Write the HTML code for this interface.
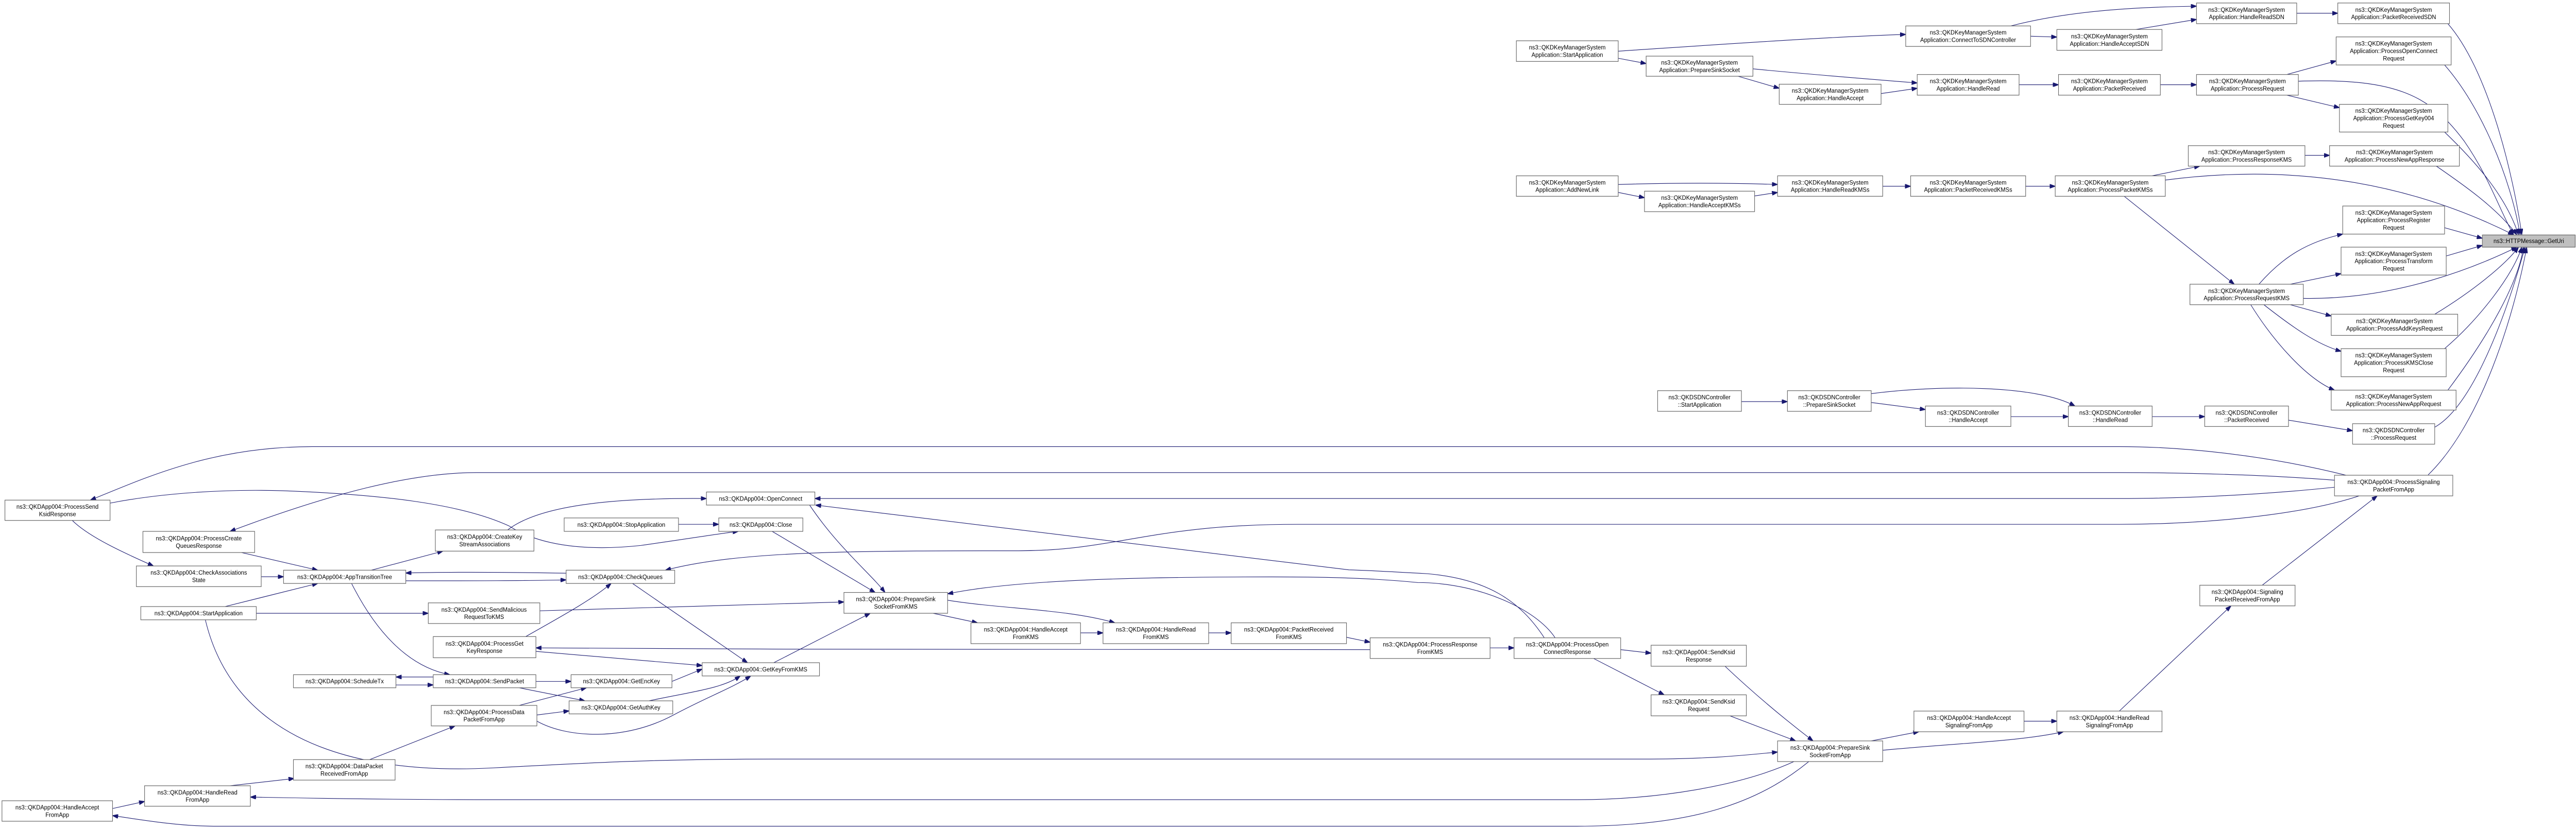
<!DOCTYPE html>
<html><head><meta charset="utf-8"><style>
html,body{margin:0;padding:0;background:#fff;width:100%;height:100%;overflow:hidden;}
svg{display:block;position:fixed;left:0;top:0;width:100%;height:100%;}
text{font-family:"Liberation Sans",sans-serif;font-size:3.5px;fill:#000;text-anchor:middle;}
.n rect{fill:#fff;stroke:#666;stroke-width:0.35;}
.e path{fill:none;stroke:#191970;stroke-width:0.32;marker-end:url(#ah);}
</style></head><body>
<svg width="100%" height="100%" viewBox="0 0 1568 469.6" preserveAspectRatio="none" xmlns="http://www.w3.org/2000/svg">
<defs><marker id="ah" viewBox="0 0 10 7" refX="10" refY="3.5" markerWidth="3.4" markerHeight="2.4" markerUnits="userSpaceOnUse" orient="auto"><path d="M0,0 L10,3.5 L0,7 z" fill="#191970" stroke="#191970"/></marker></defs>
<g class="e">
<path d="M1398,7.5 L1423,7.5"/>
<path d="M1224,14.7 C1260,6 1300,4 1337,3.5"/>
<path d="M1236,20.5 L1252,21"/>
<path d="M1300,16.7 L1337,11"/>
<path d="M985,29 C1050,25 1110,21 1160,19.5"/>
<path d="M985,33 L1002,36"/>
<path d="M1067,39 C1100,42 1140,45 1167,47"/>
<path d="M1058,43.2 L1083,50"/>
<path d="M1145,53 L1167,50"/>
<path d="M1229,48 L1253,48"/>
<path d="M1315,48 L1337,48"/>
<path d="M1392,42.2 L1422,34.5"/>
<path d="M1392,53.9 L1424,61"/>
<path d="M1399,46 C1460,44 1480,55 1500,80 C1515,100 1522,120 1530,133"/>
<path d="M1490,13.4 C1515,40 1530,100 1535,133"/>
<path d="M1488,36.8 C1510,60 1528,100 1534,133"/>
<path d="M1488,74.8 C1505,90 1525,110 1533,133"/>
<path d="M1403,88 L1418,88"/>
<path d="M1483,94.1 C1500,105 1520,118 1532,133"/>
<path d="M1310,99.6 L1339,94.1"/>
<path d="M1318,102 C1400,92 1470,105 1530,133"/>
<path d="M1293,111.2 L1360,161"/>
<path d="M985,104.5 C1020,103.5 1050,103.5 1082,104.5"/>
<path d="M985,109 L1001,112"/>
<path d="M1068,111 L1082,109"/>
<path d="M1146,105.5 L1163,105.5"/>
<path d="M1233,105.5 L1251,105.5"/>
<path d="M1488,129 L1511,135"/>
<path d="M1489,145 L1511,139"/>
<path d="M1375,161 C1390,145 1405,137 1426,132.6"/>
<path d="M1394,161 L1425,155"/>
<path d="M1402,169 C1460,170 1510,150 1532,140"/>
<path d="M1394,172.6 L1419,179"/>
<path d="M1378,172.6 C1395,185 1410,195 1425,199"/>
<path d="M1370,172.6 C1385,195 1405,215 1421,221"/>
<path d="M1482,178 C1505,165 1525,150 1533,140"/>
<path d="M1488,197.5 C1510,180 1530,155 1535,140"/>
<path d="M1490,221 C1515,190 1533,160 1536,140"/>
<path d="M1060,227.5 L1088,227.5"/>
<path d="M1139,223 C1180,218 1240,218 1263,230"/>
<path d="M1139,228 L1172,232"/>
<path d="M1224,236 L1259,236"/>
<path d="M1310,236 L1342,236"/>
<path d="M1393,238 L1432,244"/>
<path d="M1482,242 C1505,230 1525,180 1537,140"/>
<path d="M1478,269 C1510,240 1530,180 1538,140"/>
<path d="M1428,269.2 C1380,258 1330,253 1290,253 L190,253 C130,253 90,270 55,283.3"/>
<path d="M1421,272 C1380,269 1330,267.7 1290,267.7 L290,267.7 C250,267.7 200,280 140,301"/>
<path d="M1421,276 C1370,281 1320,282.4 1290,282.4 L496,282.4"/>
<path d="M1436,280.9 C1400,292 1340,297 1290,297 L790,297 C700,297 680,312 620,312 C520,312 450,312 405,323"/>
<path d="M125,351.1 C140,410 200,440 300,435 C360,432 400,430 470,430 L1000,430 C1040,430 1060,428 1082,426"/>
<path d="M1092,431.4 C1060,445 1010,453 960,453 L300,453 C230,453 180,452 152.4,451.5"/>
<path d="M1101,431.4 C1070,455 1030,468 960,468 L130,468 C110,468 90,465 68.5,462"/>
<path d="M68.5,458 L88,454"/>
<path d="M140,445.1 L179,441"/>
<path d="M225,430.3 L277,411.2"/>
<path d="M316,399.6 L357,389.6"/>
<path d="M326.8,405 L346.4,402.7"/>
<path d="M326.8,408.5 C345,418 380,420 410,405 C430,395 445,390 457,382.9"/>
<path d="M326.2,386 L347.6,386"/>
<path d="M316,389.6 L356,397"/>
<path d="M263.7,383.5 L241,383.5"/>
<path d="M241,388 L263.7,388"/>
<path d="M409,386 L427.4,379"/>
<path d="M395,397 C420,392 440,390 450.6,382.9"/>
<path d="M326.2,369 L427.4,377"/>
<path d="M320,360.6 C340,350 360,340 372,330.5"/>
<path d="M385,330.5 L455,375.4"/>
<path d="M471,375.4 L529.7,347.4"/>
<path d="M214,330.5 C230,360 250,378 273.8,382.2"/>
<path d="M226,323 L269.6,312.2"/>
<path d="M247,329 C290,329 320,329 344.6,328.5"/>
<path d="M344.6,324.7 C300,324 270,324 247,324.6"/>
<path d="M159,326.7 L172.6,326.7"/>
<path d="M147,313 L193.4,323"/>
<path d="M137,343.6 L193.4,330.5"/>
<path d="M156,347.4 L260.7,347.4"/>
<path d="M328.6,346 L513.7,341"/>
<path d="M44,294.8 C55,305 80,315 93.4,320.6"/>
<path d="M67,285 C100,279 140,277 172,278 C230,280 280,285 310,298 C330,310 360,312 390,309 C420,305 440,302 449.4,301"/>
<path d="M309,300.2 C330,285 380,282 430,282.4"/>
<path d="M413,297 L437.5,297"/>
<path d="M470,301 L532.7,335.6"/>
<path d="M492.8,286.1 C510,310 530,325 538.7,335.6"/>
<path d="M940,361.3 C925,340 905,328 869,325 C850,324 830,323 821,322.8 L496.4,286.1"/>
<path d="M946.6,361.3 C935,345 900,330 863,330 C830,327 800,326.8 774,326.8 C700,326.8 620,328 576.8,336.4"/>
<path d="M568,347.4 L595,352.8"/>
<path d="M576.8,340 C610,345 650,345 678.6,352.8"/>
<path d="M657.7,358.5 L671.4,358.5"/>
<path d="M735.7,358.5 L749.4,358.5"/>
<path d="M819.6,361 L834,363.8"/>
<path d="M907,367 L921.6,367"/>
<path d="M834,368 C700,368.5 500,368 326.2,367"/>
<path d="M986.5,368 L1005,370"/>
<path d="M970,373 L1013,393.6"/>
<path d="M1050,377.4 C1070,395 1090,410 1103.6,419.7"/>
<path d="M1053,405.5 L1093,419.7"/>
<path d="M1139,419.7 L1168,414.5"/>
<path d="M1146,425 C1190,421 1230,420 1256,414.5"/>
<path d="M1232,408.5 L1252,408.5"/>
<path d="M1290,402.8 L1358,343.2"/>
<path d="M1377,331.5 L1447,280.9"/>
</g>
<g class="n">
<rect x="1423" y="1.7" width="68" height="11.7"/><text x="1457" y="6.65">ns3::QKDKeyManagerSystem</text><text x="1457" y="10.85">Application::PacketReceivedSDN</text>
<rect x="1337" y="1.7" width="61" height="11.7"/><text x="1367.5" y="6.65">ns3::QKDKeyManagerSystem</text><text x="1367.5" y="10.85">Application::HandleReadSDN</text>
<rect x="1160" y="14.7" width="76" height="11.6"/><text x="1198" y="19.6">ns3::QKDKeyManagerSystem</text><text x="1198" y="23.8">Application::ConnectToSDNController</text>
<rect x="1252" y="16.7" width="64" height="11.8"/><text x="1284" y="21.7">ns3::QKDKeyManagerSystem</text><text x="1284" y="25.9">Application::HandleAcceptSDN</text>
<rect x="923" y="23.1" width="62" height="11.7"/><text x="954" y="28.05">ns3::QKDKeyManagerSystem</text><text x="954" y="32.25">Application::StartApplication</text>
<rect x="1002" y="31.8" width="65" height="11.4"/><text x="1034.5" y="36.6">ns3::QKDKeyManagerSystem</text><text x="1034.5" y="40.8">Application::PrepareSinkSocket</text>
<rect x="1083" y="47.7" width="62" height="11.4"/><text x="1114" y="52.5">ns3::QKDKeyManagerSystem</text><text x="1114" y="56.7">Application::HandleAccept</text>
<rect x="1167" y="42.2" width="62" height="11.7"/><text x="1198" y="47.15">ns3::QKDKeyManagerSystem</text><text x="1198" y="51.35">Application::HandleRead</text>
<rect x="1253" y="42.2" width="62" height="11.7"/><text x="1284" y="47.15">ns3::QKDKeyManagerSystem</text><text x="1284" y="51.35">Application::PacketReceived</text>
<rect x="1337" y="42.2" width="62" height="11.7"/><text x="1368" y="47.15">ns3::QKDKeyManagerSystem</text><text x="1368" y="51.35">Application::ProcessRequest</text>
<rect x="1422" y="20.9" width="70" height="15.9"/><text x="1457" y="25.85">ns3::QKDKeyManagerSystem</text><text x="1457" y="30.05">Application::ProcessOpenConnect</text><text x="1457" y="34.25">Request</text>
<rect x="1424" y="59.1" width="66" height="15.7"/><text x="1457" y="63.95">ns3::QKDKeyManagerSystem</text><text x="1457" y="68.15">Application::ProcessGetKey004</text><text x="1457" y="72.35">Request</text>
<rect x="1332" y="82.5" width="71" height="11.6"/><text x="1367.5" y="87.4">ns3::QKDKeyManagerSystem</text><text x="1367.5" y="91.6">Application::ProcessResponseKMS</text>
<rect x="1418" y="82.5" width="79" height="11.6"/><text x="1457.5" y="87.4">ns3::QKDKeyManagerSystem</text><text x="1457.5" y="91.6">Application::ProcessNewAppResponse</text>
<rect x="923" y="99.6" width="62" height="11.6"/><text x="954" y="104.5">ns3::QKDKeyManagerSystem</text><text x="954" y="108.7">Application::AddNewLink</text>
<rect x="1001" y="108.3" width="67" height="11.6"/><text x="1034.5" y="113.2">ns3::QKDKeyManagerSystem</text><text x="1034.5" y="117.4">Application::HandleAcceptKMSs</text>
<rect x="1082" y="99.6" width="64" height="11.6"/><text x="1114" y="104.5">ns3::QKDKeyManagerSystem</text><text x="1114" y="108.7">Application::HandleReadKMSs</text>
<rect x="1163" y="99.6" width="70" height="11.6"/><text x="1198" y="104.5">ns3::QKDKeyManagerSystem</text><text x="1198" y="108.7">Application::PacketReceivedKMSs</text>
<rect x="1251" y="99.6" width="67" height="11.6"/><text x="1284.5" y="104.5">ns3::QKDKeyManagerSystem</text><text x="1284.5" y="108.7">Application::ProcessPacketKMSs</text>
<rect x="1426" y="116.7" width="62" height="15.9"/><text x="1457" y="121.65">ns3::QKDKeyManagerSystem</text><text x="1457" y="125.85">Application::ProcessRegister</text><text x="1457" y="130.05">Request</text>
<rect x="1511" y="133.1" width="56.5" height="6.9" style="fill:#bfbfbf"/><text x="1539.25" y="137.7">ns3::HTTPMessage::GetUri</text>
<rect x="1425" y="140" width="64" height="15.8"/><text x="1457" y="144.9">ns3::QKDKeyManagerSystem</text><text x="1457" y="149.1">Application::ProcessTransform</text><text x="1457" y="153.3">Request</text>
<rect x="1333" y="161" width="69" height="11.6"/><text x="1367.5" y="165.9">ns3::QKDKeyManagerSystem</text><text x="1367.5" y="170.1">Application::ProcessRequestKMS</text>
<rect x="1419" y="178" width="77" height="12"/><text x="1457.5" y="183.1">ns3::QKDKeyManagerSystem</text><text x="1457.5" y="187.3">Application::ProcessAddKeysRequest</text>
<rect x="1425" y="197.5" width="64" height="15.9"/><text x="1457" y="202.45">ns3::QKDKeyManagerSystem</text><text x="1457" y="206.65">Application::ProcessKMSClose</text><text x="1457" y="210.85">Request</text>
<rect x="1419" y="221" width="76" height="11.3"/><text x="1457" y="225.75">ns3::QKDKeyManagerSystem</text><text x="1457" y="229.95">Application::ProcessNewAppRequest</text>
<rect x="1009" y="221.3" width="51" height="11.7"/><text x="1034.5" y="226.25">ns3::QKDSDNController</text><text x="1034.5" y="230.45">::StartApplication</text>
<rect x="1088" y="221.3" width="51" height="11.7"/><text x="1113.5" y="226.25">ns3::QKDSDNController</text><text x="1113.5" y="230.45">::PrepareSinkSocket</text>
<rect x="1172" y="230" width="52" height="11.6"/><text x="1198" y="234.9">ns3::QKDSDNController</text><text x="1198" y="239.1">::HandleAccept</text>
<rect x="1259" y="230" width="51" height="11.6"/><text x="1284.5" y="234.9">ns3::QKDSDNController</text><text x="1284.5" y="239.1">::HandleRead</text>
<rect x="1342" y="230" width="51" height="11.6"/><text x="1367.5" y="234.9">ns3::QKDSDNController</text><text x="1367.5" y="239.1">::PacketReceived</text>
<rect x="1432" y="240" width="50" height="11.6"/><text x="1457" y="244.9">ns3::QKDSDNController</text><text x="1457" y="249.1">::ProcessRequest</text>
<rect x="1421" y="269.2" width="72" height="11.7"/><text x="1457" y="274.15">ns3::QKDApp004::ProcessSignaling</text><text x="1457" y="278.35">PacketFromApp</text>
<rect x="1339" y="331.5" width="58" height="11.7"/><text x="1368" y="336.45">ns3::QKDApp004::Signaling</text><text x="1368" y="340.65">PacketReceivedFromApp</text>
<rect x="921.6" y="361.3" width="64.9" height="11.7"/><text x="954" y="366.25">ns3::QKDApp004::ProcessOpen</text><text x="954" y="370.45">ConnectResponse</text>
<rect x="1005" y="365.5" width="58" height="11.9"/><text x="1034" y="370.55">ns3::QKDApp004::SendKsid</text><text x="1034" y="374.75">Response</text>
<rect x="1005" y="393.6" width="58" height="11.9"/><text x="1034" y="398.65">ns3::QKDApp004::SendKsid</text><text x="1034" y="402.85">Request</text>
<rect x="1082" y="419.7" width="64" height="11.7"/><text x="1114" y="424.65">ns3::QKDApp004::PrepareSink</text><text x="1114" y="428.85">SocketFromApp</text>
<rect x="1165" y="402.8" width="67" height="11.7"/><text x="1198.5" y="407.75">ns3::QKDApp004::HandleAccept</text><text x="1198.5" y="411.95">SignalingFromApp</text>
<rect x="1252" y="402.8" width="64" height="11.7"/><text x="1284" y="407.75">ns3::QKDApp004::HandleRead</text><text x="1284" y="411.95">SignalingFromApp</text>
<rect x="3" y="283.3" width="64" height="11.5"/><text x="35" y="288.15">ns3::QKDApp004::ProcessSend</text><text x="35" y="292.35">KsidResponse</text>
<rect x="87" y="301" width="68" height="12"/><text x="121" y="306.1">ns3::QKDApp004::ProcessCreate</text><text x="121" y="310.3">QueuesResponse</text>
<rect x="83" y="320.6" width="76" height="11.7"/><text x="121" y="325.55">ns3::QKDApp004::CheckAssociations</text><text x="121" y="329.75">State</text>
<rect x="172.6" y="323" width="74.4" height="7.5"/><text x="209.8" y="328">ns3::QKDApp004::AppTransitionTree</text>
<rect x="85.7" y="343.6" width="70.3" height="7.5"/><text x="120.85" y="348.6">ns3::QKDApp004::StartApplication</text>
<rect x="265" y="300.2" width="60" height="12"/><text x="295" y="305.3">ns3::QKDApp004::CreateKey</text><text x="295" y="309.5">StreamAssociations</text>
<rect x="430" y="278.7" width="66" height="7.4"/><text x="463" y="283.6">ns3::QKDApp004::OpenConnect</text>
<rect x="343.4" y="293.4" width="69.6" height="7.6"/><text x="378.2" y="298.4">ns3::QKDApp004::StopApplication</text>
<rect x="437.5" y="293.4" width="51.2" height="7.6"/><text x="463.1" y="298.4">ns3::QKDApp004::Close</text>
<rect x="344.6" y="323" width="66.1" height="7.5"/><text x="377.65" y="328">ns3::QKDApp004::CheckQueues</text>
<rect x="513.7" y="335.6" width="63.1" height="11.8"/><text x="545.25" y="340.6">ns3::QKDApp004::PrepareSink</text><text x="545.25" y="344.8">SocketFromKMS</text>
<rect x="260.7" y="341.5" width="67.9" height="11.7"/><text x="294.65" y="346.45">ns3::QKDApp004::SendMalicious</text><text x="294.65" y="350.65">RequestToKMS</text>
<rect x="263.7" y="360.6" width="62.5" height="12"/><text x="294.95" y="365.7">ns3::QKDApp004::ProcessGet</text><text x="294.95" y="369.9">KeyResponse</text>
<rect x="427.4" y="375.4" width="71.4" height="7.5"/><text x="463.1" y="380.4">ns3::QKDApp004::GetKeyFromKMS</text>
<rect x="178.6" y="382.2" width="62.4" height="7.4"/><text x="209.8" y="387.1">ns3::QKDApp004::ScheduleTx</text>
<rect x="263.7" y="382.2" width="62.5" height="7.4"/><text x="294.95" y="387.1">ns3::QKDApp004::SendPacket</text>
<rect x="347.6" y="382.2" width="61.4" height="7.4"/><text x="378.3" y="387.1">ns3::QKDApp004::GetEncKey</text>
<rect x="346.4" y="397" width="63.1" height="7.4"/><text x="377.95" y="401.9">ns3::QKDApp004::GetAuthKey</text>
<rect x="262.5" y="399.6" width="64.3" height="11.6"/><text x="294.65" y="404.5">ns3::QKDApp004::ProcessData</text><text x="294.65" y="408.7">PacketFromApp</text>
<rect x="178.6" y="430.3" width="61.9" height="11.6"/><text x="209.55" y="435.2">ns3::QKDApp004::DataPacket</text><text x="209.55" y="439.4">ReceivedFromApp</text>
<rect x="88" y="445.1" width="64.4" height="11.6"/><text x="120.2" y="450">ns3::QKDApp004::HandleRead</text><text x="120.2" y="454.2">FromApp</text>
<rect x="1.2" y="453.6" width="67.3" height="11.6"/><text x="34.85" y="458.5">ns3::QKDApp004::HandleAccept</text><text x="34.85" y="462.7">FromApp</text>
<rect x="591" y="352.8" width="66.7" height="11.8"/><text x="624.35" y="357.8">ns3::QKDApp004::HandleAccept</text><text x="624.35" y="362">FromKMS</text>
<rect x="671.4" y="352.8" width="64.3" height="11.8"/><text x="703.55" y="357.8">ns3::QKDApp004::HandleRead</text><text x="703.55" y="362">FromKMS</text>
<rect x="749.4" y="352.8" width="70.2" height="11.8"/><text x="784.5" y="357.8">ns3::QKDApp004::PacketReceived</text><text x="784.5" y="362">FromKMS</text>
<rect x="834" y="361.3" width="73" height="11.7"/><text x="870.5" y="366.25">ns3::QKDApp004::ProcessResponse</text><text x="870.5" y="370.45">FromKMS</text>
</g>
</svg>
</body></html>
